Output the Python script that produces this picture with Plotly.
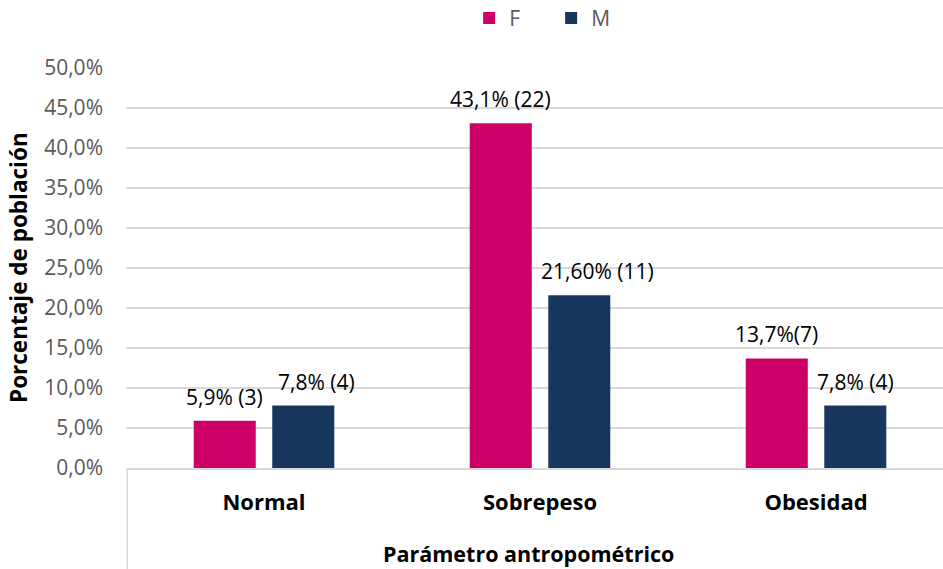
import plotly.graph_objects as go

# Data
categories = ["Normal", "Sobrepeso", "Obesidad"]
female_pct = [5.9, 43.1, 13.7]
male_pct = [7.8, 21.6, 7.8]
female_labels = ["5,9% (3)", "43,1% (22)", "13,7%(7)"]
male_labels = ["7,8% (4)", "21,60% (11)", "7,8% (4)"]
y_ticks = [0, 5, 10, 15, 20, 25, 30, 35, 40, 45, 50]

# Styling
F_COLOR = "#CC0066"
M_COLOR = "#17375E"
GRID = "#D9D9D9"
FONT = "Open Sans"
# horizontal label nudges (px) for the male series labels
male_label_nudge = [13, 18, 0]

fig = go.Figure()
fig.add_trace(go.Bar(name="F", x=categories, y=female_pct, marker_color=F_COLOR,
                     marker_line_width=0))
fig.add_trace(go.Bar(name="M", x=categories, y=male_pct, marker_color=M_COLOR,
                     marker_line_width=0))

bargap = 0.431
groupgap = 0.21
slot = (1 - bargap) / 2
PX_PER_CAT = 276  # px width of one category slot in the plot area

annotations = []
for i, cat in enumerate(categories):
    for val, txt, sign, nudge in ((female_pct[i], female_labels[i], -1, 0),
                                  (male_pct[i], male_labels[i], 1, male_label_nudge[i])):
        annotations.append(dict(
            x=cat, y=val, xref="x", yref="y", text=txt, showarrow=False,
            xanchor="center", yanchor="middle",
            xshift=sign * slot / 2 * PX_PER_CAT + nudge, yshift=24,
            font=dict(family=FONT, size=21, color="#000000"),
        ))

# Axis titles
annotations.append(dict(
    x=0.5, y=-0.213, xref="paper", yref="paper", text="<b>Parámetro antropométrico</b>",
    showarrow=False, xanchor="center", yanchor="middle", xshift=-6,
    font=dict(family=FONT, size=21.5, color="#000000"),
))
annotations.append(dict(
    x=0, y=0.5, xref="paper", yref="paper", text="<b>Porcentaje de población</b>",
    showarrow=False, xanchor="center", yanchor="middle", textangle=-90, xshift=-108,
    font=dict(family=FONT, size=22.5, color="#000000"),
))

fig.update_layout(
    width=943, height=569,
    margin=dict(l=126, r=0, t=68, b=101, autoexpand=False),
    paper_bgcolor="white", plot_bgcolor="white",
    barmode="group", bargap=bargap, bargroupgap=groupgap,
    showlegend=True,
    legend=dict(orientation="h", x=0.42, y=1.124, xanchor="left", yanchor="middle",
                font=dict(family=FONT, size=21, color="#595959"),
                entrywidth=37, itemwidth=30),
    annotations=annotations,
    shapes=[dict(type="line", xref="paper", yref="paper", x0=0.0015, x1=0.0015,
                 y0=0, y1=-0.26, line=dict(color=GRID, width=1.5))],
)

fig.update_xaxes(
    range=[-0.5, 2.46], showgrid=False, showline=True, linecolor=GRID, linewidth=1.5,
    ticks="", ticklabelstandoff=14,
    tickfont=dict(family=FONT, size=22, color="#000000", weight="bold"),
)
fig.update_yaxes(
    range=[0, 50], tickvals=y_ticks,
    ticktext=[f"{v:.1f}".replace(".", ",") + "%" for v in y_ticks],
    showgrid=True, gridcolor=GRID, gridwidth=1.5, zeroline=False, showline=False,
    ticks="", ticklabelstandoff=22,
    tickfont=dict(family=FONT, size=21, color="#595959"),
)

fig.write_html("out.html")
